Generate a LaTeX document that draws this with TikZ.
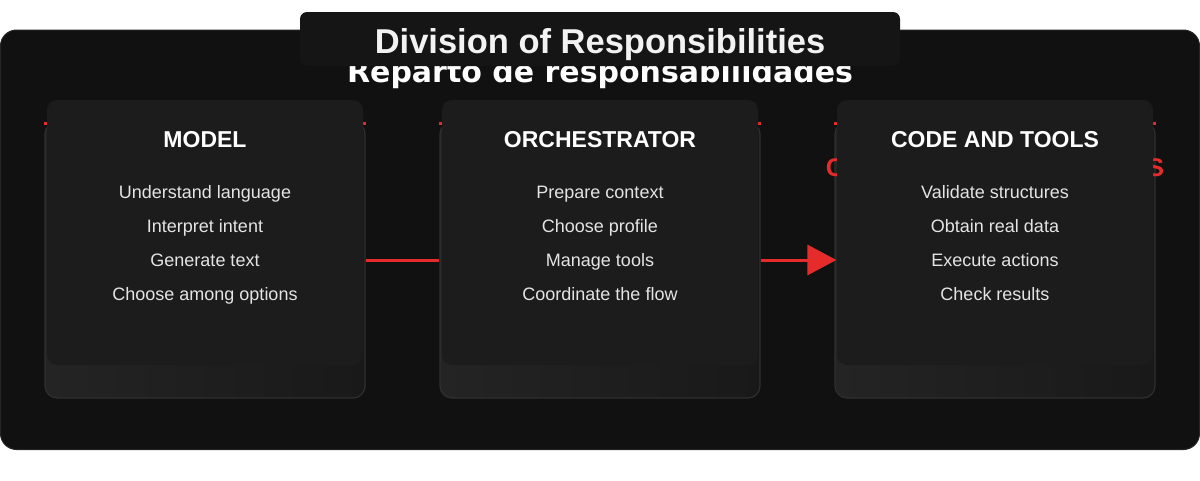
\documentclass[tikz,border=0pt]{standalone}
\usepackage{fontspec}
\setmainfont{Liberation Sans}
\newfontfamily\dejavu{DejaVu Sans}
\usetikzlibrary{positioning, calc, arrows.meta}
\definecolor{panelbg}{HTML}{111111}
\definecolor{paneledge}{HTML}{262626}
\definecolor{titlebg}{HTML}{151515}
\definecolor{cardtop}{HTML}{1C1C1C}
\definecolor{cardleft}{HTML}{242424}
\definecolor{cardright}{HTML}{191919}
\definecolor{cardedge}{HTML}{2F2F2F}
\definecolor{itemtext}{HTML}{E4E4E4}
\definecolor{flowred}{HTML}{E62B2B}

\begin{document}
\begin{tikzpicture}[x=1pt, y=-1pt,
  backcard/.style={rectangle,
      draw=cardedge,
      line width=1.2pt,
      left color=cardleft,
      right color=cardright,
      rounded corners=12pt,
      minimum width=320pt,
      minimum height=276pt},
  frontcard/.style={rectangle,
      fill=cardtop,
      rounded corners=10pt,
      minimum width=316pt,
      minimum height=265pt},
  cardtitle/.style={anchor=base, text=white,
      font=\bfseries\fontsize{23}{28}\selectfont},
  item/.style={anchor=base, text=itemtext,
      font=\fontsize{18}{22}\selectfont},
  flow/.style={draw=flowred, line width=3pt}]

  \useasboundingbox (0,0) rectangle (1200,480);

  % PANEL AND HEADING

  \draw[fill=panelbg, draw=paneledge, line width=1pt, rounded corners=16pt]
    (0.5,30) rectangle (1199.5,449.5);

  \node[anchor=base, text=white, font=\dejavu\bfseries\fontsize{30}{36}\selectfont]
    (subtitle) at (600,82) {Reparto de responsabilidades};

  \node[fill=titlebg, rounded corners=7pt, minimum width=600pt,
    minimum height=54pt] (titlebox) at (600,39) {};

  \node[anchor=base, text=white!95!black, font=\bfseries\fontsize{34.5}{40}\selectfont]
    (title) at (600,53) {Division of Responsibilities};

  % CARDS

  \node[backcard] (modelback) at (205,260) {};
  \node[backcard] (orchback) at (600,260) {};
  \node[backcard] (toolsback) at (995,260) {};

  \draw[flowred, line width=3pt] ([yshift=-2pt]modelback.north west)
    -- ([yshift=-2pt]modelback.north east);
  \draw[flowred, line width=3pt] ([yshift=-2pt]orchback.north west)
    -- ([yshift=-2pt]orchback.north east);
  \draw[flowred, line width=3pt] ([yshift=-2pt]toolsback.north west)
    -- ([yshift=-2pt]toolsback.north east);

  \node[anchor=base, text=flowred, font=\bfseries\fontsize{25.5}{30}\selectfont]
    (toolsred) at (995,176) {CÓDIGO Y HERRAMIENTAS};

  \node[frontcard] (model) at (205,232.5) {};
  \node[frontcard] (orch) at (600,232.5) {};
  \node[frontcard] (tools) at (995,232.5) {};

  \node[cardtitle] (modeltitle) at (205,147) {MODEL};
  \node[cardtitle] (orchtitle) at (600,147) {ORCHESTRATOR};
  \node[cardtitle] (toolstitle) at (995,147) {CODE AND TOOLS};

  \foreach \txt [count=\i] in {Understand language, Interpret intent,
      Generate text, Choose among options}
    \node[item] (model-\i) at (205,164.5+34*\i) {\txt};

  \foreach \txt [count=\i] in {Prepare context, Choose profile,
      Manage tools, Coordinate the flow}
    \node[item] (orch-\i) at (600,164.5+34*\i) {\txt};

  \foreach \txt [count=\i] in {Validate structures, Obtain real data,
      Execute actions, Check results}
    \node[item] (tools-\i) at (995,164.5+34*\i) {\txt};

  % FLOW

  \draw[flow] (modelback.east) -- (orchback.west);
  \draw[flow, -{Triangle[length=29pt, width=30pt]}]
    (orchback.east) -- ([xshift=2pt]toolsback.west);

\end{tikzpicture}
\end{document}
